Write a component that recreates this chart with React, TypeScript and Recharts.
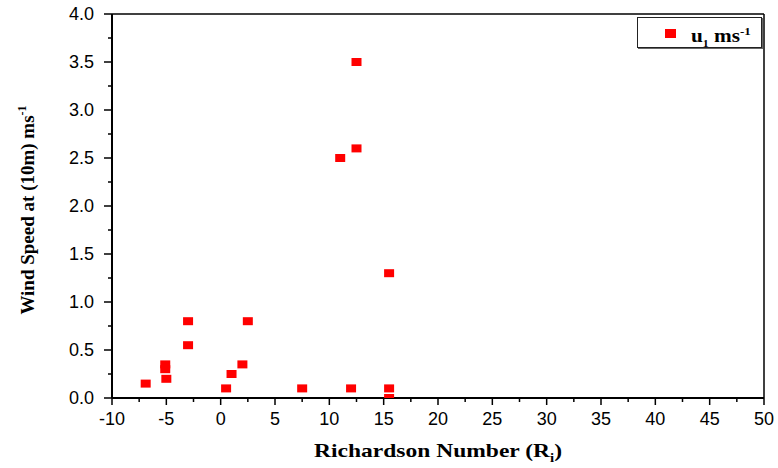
import React from 'react';
import { ScatterChart, Scatter, XAxis, YAxis } from 'recharts';

// Richardson number vs wind speed readings
const richardson = [-6.9, -5.1, -5.1, -5, -3, -3, 0.5, 1, 2, 2.5, 7.5, 11, 12, 12.5, 12.5, 15.5, 15.5, 15.5];
const windSpeed = [0.15, 0.35, 0.3, 0.2, 0.8, 0.55, 0.1, 0.25, 0.35, 0.8, 0.1, 2.5, 0.1, 2.6, 3.5, 1.3, 0.1, 0];

const xTicks = [-10, -7.5, -5, -2.5, 0, 2.5, 5, 7.5, 10, 12.5, 15, 17.5, 20, 22.5, 25, 27.5, 30, 32.5, 35, 37.5, 40, 42.5, 45, 47.5, 50];
const yTicks = [0, 0.25, 0.5, 0.75, 1, 1.25, 1.5, 1.75, 2, 2.25, 2.5, 2.75, 3, 3.25, 3.5, 3.75, 4];
const frameTicks = [0, 1, 2, 3, 4, 5, 6, 7, 8, 9, 10];

const SANS = '"Liberation Sans", Arial, sans-serif';
const SERIF = '"Liberation Serif", "Times New Roman", serif';

const data = richardson.map((r, i) => ({ x: r, y: windSpeed[i] }));

const BottomTick = ({ x, y, payload }: any) => {
    const major = payload.value % 5 === 0;
    return (
        <g>
            <line x1={x} y1={y} x2={x} y2={y + (major ? 7 : 4)} stroke="#000" strokeWidth={1.5} />
            {major && (
                <text x={x} y={y + 27} textAnchor="middle" fontSize={18} fontFamily={SANS} fill="#000">
                    {payload.value}
                </text>
            )}
        </g>
    );
};

const LeftTick = ({ x, y, payload }: any) => {
    const major = payload.value % 0.5 === 0;
    return (
        <g>
            <line x1={x} y1={y} x2={x - (major ? 8 : 4)} y2={y} stroke="#000" strokeWidth={1.5} />
            {major && (
                <text x={x - 18} y={y} dy="0.36em" textAnchor="end" fontSize={18} fontFamily={SANS} fill="#000">
                    {payload.value.toFixed(1)}
                </text>
            )}
        </g>
    );
};

const TopTick = ({ x, y, payload }: any) => {
    const major = payload.value % 2 === 0;
    return <line x1={x} y1={y} x2={x} y2={y + (major ? 7 : 3)} stroke="#000" strokeWidth={1.5} />;
};

const RightTick = ({ x, y, payload }: any) => {
    const major = payload.value % 2 === 0;
    return <line x1={x} y1={y} x2={x - (major ? 8 : 4)} y2={y} stroke="#000" strokeWidth={1.5} />;
};

const XTitle = ({ viewBox }: any) => {
    const left = viewBox.x + viewBox.width / 2 - 124;
    return (
        <text
            x={left}
            y={viewBox.y + 59}
            textLength={248}
            lengthAdjust="spacingAndGlyphs"
            fontSize={19}
            fontWeight="bold"
            fontFamily={SERIF}
            fill="#000"
        >
            Richardson Number (R<tspan fontSize={12} dy={5}>i</tspan><tspan dy={-5}>)</tspan>
        </text>
    );
};

const YTitle = ({ viewBox }: any) => {
    const cx = viewBox.x + 34;
    const cy = viewBox.y + viewBox.height / 2 + 4;
    return (
        <text
            x={cx}
            y={cy}
            transform={`rotate(-90, ${cx}, ${cy})`}
            textAnchor="middle"
            fontSize={19}
            fontWeight="bold"
            fontFamily={SERIF}
            fill="#000"
        >
            Wind Speed at (10m) ms<tspan fontSize={12} dy={-8}>-1</tspan>
        </text>
    );
};

const Square = ({ cx, cy }: any) => <rect x={cx - 5} y={cy - 4} width={10} height={8} fill="#ff0000" />;

export default function App() {
    return (
        <div style={{ position: 'relative', width: 778, height: 468, background: '#fff' }}>
            <style>{`body{margin:0}`}</style>
            <ScatterChart width={778} height={468} margin={{ top: 13, right: 13, bottom: 0, left: 0 }}>
                <XAxis
                    xAxisId={0}
                    type="number"
                    dataKey="x"
                    domain={[-10, 50]}
                    ticks={xTicks}
                    interval={0}
                    allowDataOverflow
                    height={70}
                    tickSize={0}
                    tickMargin={0}
                    tickLine={false}
                    tick={<BottomTick />}
                    axisLine={{ stroke: '#000', strokeWidth: 2 }}
                    label={(p: any) => <XTitle viewBox={p.viewBox} />}
                />
                <XAxis
                    xAxisId="top"
                    orientation="top"
                    type="number"
                    domain={[0, 10]}
                    ticks={frameTicks}
                    interval={0}
                    height={1}
                    tickSize={0}
                    tickMargin={0}
                    tickLine={false}
                    tick={<TopTick />}
                    axisLine={{ stroke: '#000', strokeWidth: 1.5 }}
                />
                <YAxis
                    yAxisId={0}
                    type="number"
                    dataKey="y"
                    domain={[0, 4]}
                    ticks={yTicks}
                    interval={0}
                    allowDataOverflow
                    width={112}
                    tickSize={0}
                    tickMargin={0}
                    tickLine={false}
                    tick={<LeftTick />}
                    axisLine={{ stroke: '#000', strokeWidth: 2 }}
                    label={(p: any) => <YTitle viewBox={p.viewBox} />}
                />
                <YAxis
                    yAxisId="right"
                    orientation="right"
                    type="number"
                    domain={[0, 10]}
                    ticks={frameTicks}
                    interval={0}
                    width={1}
                    tickSize={0}
                    tickMargin={0}
                    tickLine={false}
                    tick={<RightTick />}
                    axisLine={{ stroke: '#000', strokeWidth: 1.5 }}
                />
                <Scatter data={data} xAxisId={0} yAxisId={0} shape={<Square />} isAnimationActive={false} />
            </ScatterChart>
            <div
                style={{
                    position: 'absolute',
                    left: 637,
                    top: 17,
                    width: 123,
                    height: 29,
                    border: '1px solid #222',
                    boxShadow: '1px 1px 0 #666',
                    background: '#fff',
                }}
            >
                <div style={{ position: 'absolute', left: 27, top: 11, width: 11, height: 9, background: '#ff0000' }} />
                <div
                    style={{
                        position: 'absolute',
                        left: 53,
                        top: 2,
                        fontFamily: SERIF,
                        fontWeight: 'bold',
                        fontSize: 18,
                        whiteSpace: 'nowrap',
                        lineHeight: '22px',
                        transform: 'scaleX(1.18)',
                        transformOrigin: 'left center',
                    }}
                >
                    u<sub style={{ fontSize: 10 }}>1</sub> ms<sup style={{ fontSize: 11 }}>-1</sup>
                </div>
            </div>
        </div>
    );
}
